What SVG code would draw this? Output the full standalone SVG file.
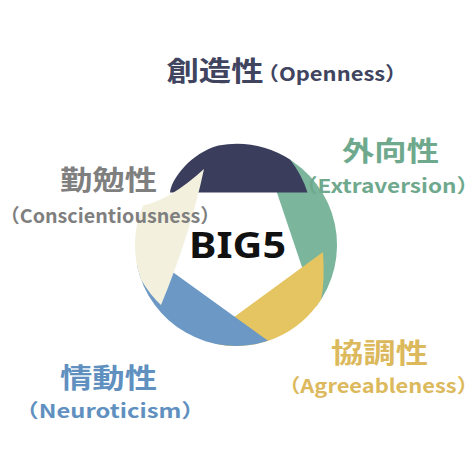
<svg xmlns="http://www.w3.org/2000/svg" width="474" height="474" viewBox="0 0 474 474">
<style>
  .t { font-family: 'Noto Sans CJK JP', 'Noto Sans', sans-serif; font-weight: 700; text-anchor: middle; }
  .big { font-size: 27px; }
  .sub { font-size: 19px; }
  .navy { fill: #3a3d5c; }
  .green { fill: #7ab59c; }
  .yellow { fill: #e5c462; }
  .blue { fill: #6b98c5; }
  .cream { fill: #f3f1de; }
</style>
<rect width="474" height="474" fill="#ffffff"/>
<g id="shutter">
  <path id="blade-extraversion" class="green" d="M 266,160 L 308.7,287 L 315.6,307.2 A 101 101 0 0 0 283.4,155.8 Z"/>
  <path id="blade-agreeableness" class="yellow" d="M 323,252 Q 325,280 321.2,299.3 A 101 101 0 0 1 218.5,344.5 L 215,331 Z"/>
  <path id="blade-neuroticism" class="blue" d="M 148,254.2 L 268,340.7 A 101 101 0 0 1 137.2,266 Z"/>
  <path id="blade-openness" class="navy" d="M 307.5,192.5 L 170,192.5 C 171,179 191,153 218.5,145.5 A 101 101 0 0 1 290,159.6 Q 302,175 307.5,192.5 Z"/>
  <path id="blade-conscientiousness" class="cream" d="M 204,169 Q 190,235 161,305 Q 150,295 141,279.5 A 101 101 0 0 1 143,205.5 Q 170,200 204,169 Z"/>
</g>
<g id="center-label">
  <text x="237.5" y="258" font-family="'Noto Sans', 'Liberation Sans', sans-serif" font-weight="700" font-size="35" text-anchor="middle" textLength="97" lengthAdjust="spacingAndGlyphs" fill="#111111">BIG5</text>
</g>
<g id="label-openness" fill="#40445f">
  <text class="t big" x="215" y="81" textLength="97" lengthAdjust="spacingAndGlyphs">創造性</text>
  <text class="t sub" x="332" y="81" textLength="150" lengthAdjust="spacingAndGlyphs">（Openness）</text>
</g>
<g id="label-conscientiousness" fill="#7f7f7f">
  <text class="t big" x="108.5" y="190" textLength="97" lengthAdjust="spacingAndGlyphs">勤勉性</text>
  <text class="t sub" x="110" y="223" textLength="220" lengthAdjust="spacingAndGlyphs">（Conscientiousness）</text>
</g>
<g id="label-extraversion" fill="#6fa98d">
  <text class="t big" x="390.5" y="161" textLength="97" lengthAdjust="spacingAndGlyphs">外向性</text>
  <text class="t sub" x="387" y="193" textLength="184" lengthAdjust="spacingAndGlyphs">（Extraversion）</text>
</g>
<g id="label-agreeableness" fill="#dcb95c">
  <text class="t big" x="379.5" y="363" textLength="97" lengthAdjust="spacingAndGlyphs">協調性</text>
  <text class="t sub" x="378.5" y="393" textLength="200" lengthAdjust="spacingAndGlyphs">（Agreeableness）</text>
</g>
<g id="label-neuroticism" fill="#6090c0">
  <text class="t big" x="108.5" y="388" textLength="97" lengthAdjust="spacingAndGlyphs">情動性</text>
  <text class="t sub" x="110" y="418" textLength="190" lengthAdjust="spacingAndGlyphs">（Neuroticism）</text>
</g>
</svg>
